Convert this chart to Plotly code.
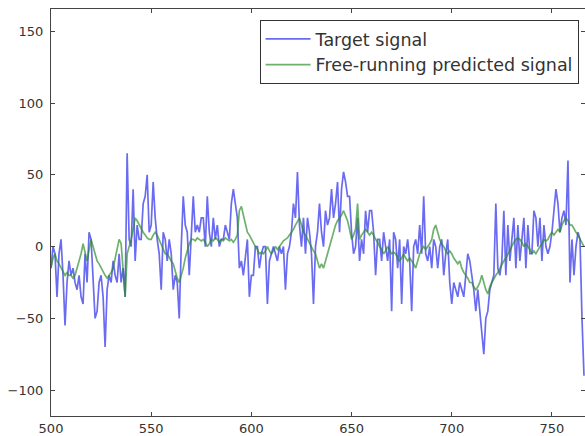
import plotly.graph_objects as go

x_start = 500
target_signal = [
    -15, 0, -5, -35, -5, 5, -20, -55, -25, -10,
    -20, -15, -25, -30, -20, -35, -40, -5, -25, 10,
    5, -20, -50, -45, -25, -20, -35, -70, -30, -20,
    -25, -10, -20, -25, -5, -25, -15, -35, 65, 5,
    0, 40, -10, 15, 5, 5, 30, 35, 50, 10,
    15, 45, 20, 5, -5, -30, 10, 5, -10, 5,
    -5, -30, -20, -25, -50, 0, 35, 15, 10, -20,
    10, 35, 10, 15, 10, 20, 20, 0, 35, 10,
    0, 20, 5, 15, 0, 5, 5, 15, 10, 5,
    30, 40, 30, 20, -15, -10, -20, -5, 5, -35,
    -20, -20, 0, 0, -15, -5, 0, 0, -40, -10,
    -5, 0, -5, -10, 0, -5, 0, -30, -5, 0,
    10, 30, 20, 52, 15, 0, 20, -5, 20, 10,
    -5, -40, 0, 10, 30, 10, 0, 25, 15, 20,
    40, 20, 30, 45, 10, 40, 52, 45, 35, 35,
    10, -5, 0, 20, -10, 5, -5, 25, 10, 25,
    25, 10, -20, 5, 5, -10, 10, 0, -10, 5,
    -45, 10, 5, -15, 5, -40, 0, -5, 5, -10,
    -45, 0, 5, -5, 15, -5, 35, -5, -10, 0,
    -15, 5, 0, -15, 0, 5, -20, -5, 5, -25,
    -40, -25, -30, -35, -25, -30, -35, -20, -5, -10,
    -20, -30, -45, -30, -45, -60, -75, -50, -45, -30,
    -25, -20, 30, -15, -20, -10, 25, -20, 15, -10,
    5, 20, -15, 15, -10, 5, 20, -15, 15, -5,
    -5, 25, 20, 0, 20, -10, 15, 0, -5, 0,
    10, 25, 40, 30, 10, 20, 25, 15, 60, -25,
    5, -20, 0, 10, 5, -50, -90,
]
predicted_signal = [
    -15, -8, -5, -10, -12, -15, -18, -20, -18, -20,
    -20, -22, -20, -15, -10, -5, 2, -5, -10, -2,
    5, 0, -5, -10, -12, -15, -18, -20, -22, -20,
    -18, -15, -8, 0, 5, 2, -15, -35, -5, 0,
    5, 12, 20, 18, 15, 12, 10, 8, 6, 5,
    5, 8, 10, 8, 5, 2, -2, -5, -5, -8,
    -10, -12, -18, -22, -25, -20, -15, -8, -2, 2,
    5, 5, 4, 6, 5, 4, 5, 3, 0, 2,
    5, 4, 6, 5, 3, 5, 4, 6, 5, 4,
    5, 3, 5, 8, 25, 28, 22, 15, 10, 8,
    5, 3, 0, -2, -5, -4, -5, -3, 0, -3,
    -5, -3, 0, -2, 0, 2, 4, 5, 6, 8,
    10, 12, 15, 18, 20, 15, 10, 8, 5, 3,
    0, -3, -5, -10, -15, -12, -15, -10, -5, 0,
    5, 10, 15, 18, 20, 22, 25, 22, 18, 12,
    5, 8, 12, 30, 5, 8, 10, 12, 10, 8,
    10, 8, 5, 3, 0, -2, -5, -3, 0, -3,
    -5, -4, -5, -8, -10, -8, -5, -8, -10, -8,
    -10, -12, -15, -10, -5, -2, 0, -2, 0, 2,
    5, 12, 15, 10, 5, 2, 0, -3, -5, -3,
    -5, -8, -10, -12, -10, -15, -18, -20, -22, -25,
    -25, -28, -30, -28, -25, -20, -25, -30, -33, -28,
    -25, -22, -20, -18, -15, -12, -10, -8, -5, -2,
    0, 3, 5, 6, 5, 3, 0, 2, 0, -2,
    -5, -3, -5, -2, 0, 2, 5, 4, 5, 8,
    10, 8, 10, 12, 10, 15, 18, 20, 18, 15,
    15, 12, 10, 8, 5, 2, 0,
]
x_vals = list(range(x_start, x_start + len(target_signal)))
x_tick_vals = [500, 550, 600, 650, 700, 750]
y_tick_vals = [-100, -50, 0, 50, 100, 150]

fig = go.Figure()
fig.add_trace(go.Scatter(x=x_vals, y=target_signal, mode="lines",
                         name="Target signal",
                         line=dict(color="rgba(50,50,235,0.72)", width=1.7)))
fig.add_trace(go.Scatter(x=x_vals, y=predicted_signal, mode="lines",
                         name="Free-running predicted signal",
                         line=dict(color="rgba(40,140,40,0.68)", width=1.7)))

axis_common = dict(showgrid=False, zeroline=False, showline=True, linecolor="#444",
                   linewidth=1.2, mirror="allticks", ticks="inside", ticklen=4,
                   tickcolor="#444", tickfont=dict(family="DejaVu Sans", size=13, color="#333"))
fig.update_xaxes(range=[500, 766.5], tickvals=x_tick_vals, **axis_common)
fig.update_yaxes(range=[-118, 165.5], tickvals=y_tick_vals, ticklabelstandoff=4, **axis_common)

fig.update_layout(
    width=585, height=436,
    margin=dict(l=51, r=0, t=9, b=20),
    plot_bgcolor="white", paper_bgcolor="white",
    font=dict(family="DejaVu Sans", color="#333"),
    legend=dict(x=0.988, y=0.973, xanchor="right", yanchor="top",
                bordercolor="#333", borderwidth=1, bgcolor="white",
                font=dict(size=17.5, color="#333"), itemwidth=45, tracegroupgap=0),
    showlegend=True,
)
fig.write_html("out.html", config={"displayModeBar": False},
               post_script="document.body.style.margin='0';document.body.style.overflow='hidden';")
